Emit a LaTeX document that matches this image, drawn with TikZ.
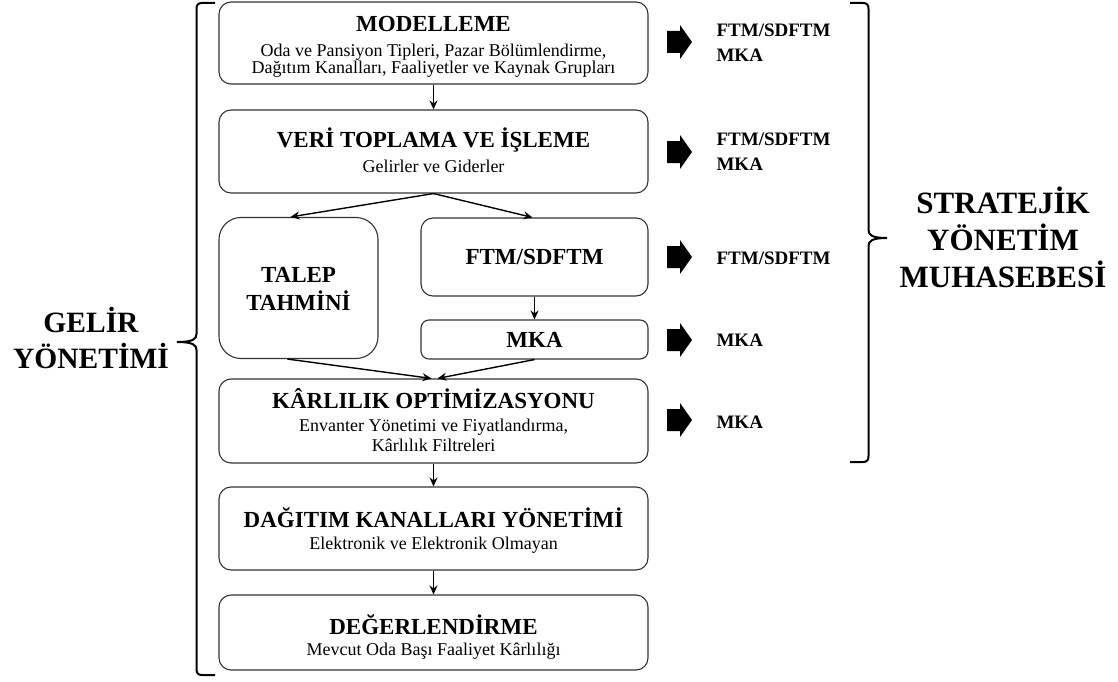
\documentclass[tikz,border=0pt]{standalone}
\usepackage{fontspec}
\setmainfont{Liberation Serif}
\usetikzlibrary{arrows.meta}
\begin{document}
\begin{tikzpicture}[x=1pt,y=-1pt,
  box/.style={draw=black!80, line width=1.1pt, rounded corners=12pt, inner sep=0pt},
  ttl/.style={anchor=base, font=\fontsize{23}{23}\selectfont\bfseries},
  sub/.style={anchor=base, align=center, font=\fontsize{18}{20}\selectfont},
  side/.style={anchor=base west, font=\fontsize{19}{19}\selectfont\bfseries},
  big/.style={align=center, font=\fontsize{29.5}{36}\selectfont\bfseries},
  flow/.style={line width=1.4pt, -{Stealth[length=9pt,width=8pt]}},
  brace/.style={line width=2pt},
  blockarrow/.pic={\fill (0,-11) -- (13,-11) -- (13,-17) -- (25,0) -- (13,17) -- (13,11) -- (0,11) -- cycle;}
]
\useasboundingbox (0,0) rectangle (1118,682);

% process boxes
\node[box, minimum width=429pt, minimum height=82pt] (b1) at (433.5,43) {};
\node[box, minimum width=429pt, minimum height=83pt] (b2) at (433.5,151.5) {};
\node[box, rounded corners=22pt, minimum width=159pt, minimum height=141pt] (talep) at (298.5,288) {};
\node[box, minimum width=227pt, minimum height=78pt] (ftm) at (534.5,257) {};
\node[box, rounded corners=8pt, minimum width=227pt, minimum height=39pt] (mka) at (534.5,339.5) {};
\node[box, minimum width=429pt, minimum height=84pt] (kar) at (433.5,421) {};
\node[box, minimum width=429pt, minimum height=83pt] (dag) at (433.5,528.5) {};
\node[box, minimum width=429pt, minimum height=75pt] (deg) at (433.5,632.5) {};

% box texts
\node[ttl] (b1t) at (433.5,32) {MODELLEME};
\node[sub] (b1s) at (433.5,57) {Oda ve Pansiyon Tipleri, Pazar Bölümlendirme,};
\node[sub] (b1s2) at (433.5,74) {Dağıtım Kanalları, Faaliyetler ve Kaynak Grupları};
\node[ttl] (b2t) at (433.5,147) {VERİ TOPLAMA VE İŞLEME};
\node[sub] (b2s) at (433.5,172) {Gelirler ve Giderler};
\node[ttl] (tt1) at (298.5,282) {TALEP};
\node[ttl] (tt2) at (298.5,310) {TAHMİNİ};
\node[ttl] (ft) at (534.5,264) {FTM/SDFTM};
\node[ttl] (mt) at (534.5,347) {MKA};
\node[ttl] (kt) at (433.5,408) {KÂRLILIK OPTİMİZASYONU};
\node[sub] (ks1) at (433.5,431) {Envanter Yönetimi ve Fiyatlandırma,};
\node[sub] (ks2) at (433.5,451) {Kârlılık Filtreleri};
\node[ttl] (dt) at (433.5,527) {DAĞITIM KANALLARI YÖNETİMİ};
\node[sub] (ds) at (433.5,549) {Elektronik ve Elektronik Olmayan};
\node[ttl] (et) at (433.5,634) {DEĞERLENDİRME};
\node[sub] (es) at (433.5,655) {Mevcut Oda Başı Faaliyet Kârlılığı};

% flow connectors
\draw[flow] (b1) -- (b2);
\draw[flow] (b2.south) -- ([xshift=-8pt]talep.north);
\draw[flow] (b2.south) -- ([xshift=-2pt]ftm.north);
\draw[flow] (ftm) -- (mka);
\draw[flow] ([xshift=-11pt]talep.south) -- ([xshift=-2pt]kar.north);
\draw[flow] (mka.south) -- ([xshift=4pt]kar.north);
\draw[flow] (kar) -- (dag);
\draw[flow] (dag) -- (deg);

% block arrows and accounting outputs
\pic at (667,42) {blockarrow};
\pic at (667,152) {blockarrow};
\pic at (667,257) {blockarrow};
\pic at (667,340) {blockarrow};
\pic at (667,420) {blockarrow};
\node[side] (o1a) at (713,37) {FTM/SDFTM};
\node[side] (o1b) at (713,62) {MKA};
\node[side] (o2a) at (713,146) {FTM/SDFTM};
\node[side] (o2b) at (713,170) {MKA};
\node[side] (o3) at (713,264) {FTM/SDFTM};
\node[side] (o4) at (713,346) {MKA};
\node[side] (o5) at (713,428) {MKA};

% left brace
\draw[brace] (215,3) -- (202,3) .. controls (198,3) and (196.5,5) .. (196.5,9) -- (196.5,334)
  .. controls (196.5,339) and (193,342) .. (177,342)
  .. controls (193,342) and (196.5,345) .. (196.5,350) -- (196.5,669)
  .. controls (196.5,673) and (198,675) .. (202,675) -- (215,675);
\node[big] (gy) at (91,338) {GELİR\\YÖNETİMİ};

% right brace
\draw[brace] (850,3) -- (863,3) .. controls (867,3) and (868.5,5) .. (868.5,9) -- (868.5,230)
  .. controls (868.5,235) and (872,238) .. (887,238)
  .. controls (872,238) and (868.5,241) .. (868.5,246) -- (868.5,456)
  .. controls (868.5,460) and (867,462) .. (863,462) -- (850,462);
\node[big, font=\fontsize{31}{37}\selectfont\bfseries] (sym) at (1003,237) {STRATEJİK\\YÖNETİM\\MUHASEBESİ};
\end{tikzpicture}
\end{document}
